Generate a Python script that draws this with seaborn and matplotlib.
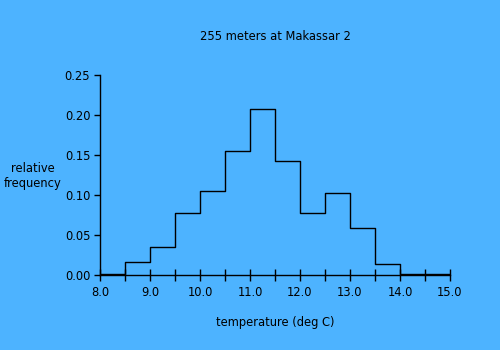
import matplotlib
matplotlib.use("Agg")
import matplotlib.pyplot as plt
import numpy as np
import seaborn as sns

# Temperature bins (deg C) and relative frequency in each bin
bin_edges = [8.0, 8.5, 9.0, 9.5, 10.0, 10.5, 11.0, 11.5, 12.0, 12.5, 13.0, 13.5, 14.0, 14.5, 15.0]
rel_freq = [0.001, 0.016, 0.035, 0.078, 0.105, 0.155, 0.208, 0.142, 0.078, 0.103, 0.059, 0.014, 0.001, 0.001]

x_ticklabels = ["8.0", "9.0", "10.0", "11.0", "12.0", "13.0", "14.0", "15.0"]
y_ticklabels = ["0.00", "0.05", "0.10", "0.15", "0.20", "0.25"]

bg = "#4DB3FF"
fs = 8.3
sns.set_theme(style="ticks")
plt.rcParams["font.family"] = ["DejaVu Sans"]

fig = plt.figure(figsize=(5, 3.5), dpi=100, facecolor=bg)
ax = fig.add_axes([0.2, 0.2143, 0.7, 0.5714], facecolor=bg)

centers = [(a + b) / 2 for a, b in zip(bin_edges[:-1], bin_edges[1:])]
sns.histplot(x=centers, weights=rel_freq, bins=bin_edges, element="step",
             fill=False, color="black", linewidth=1.0, ax=ax)

ax.set_xlim(8.0, 15.0)
ax.set_ylim(0.0, 0.25)
ax.set_xticks(np.arange(8.0, 15.01, 1.0))
ax.set_xticklabels(x_ticklabels)
ax.set_xticks(np.arange(8.5, 15.0, 1.0), minor=True)
ax.set_yticks(np.arange(0.0, 0.251, 0.05))
ax.set_yticklabels(y_ticklabels)

for side in ("top", "right"):
    ax.spines[side].set_visible(False)
for side in ("left", "bottom"):
    ax.spines[side].set_color("black")
    ax.spines[side].set_linewidth(1.0)

ax.tick_params(axis="x", which="both", direction="inout", length=8, width=1.0,
               color="black", labelsize=fs, pad=4, labelcolor="black")
ax.tick_params(axis="y", direction="out", length=4, width=1.0, color="black",
               labelsize=fs, pad=3, labelcolor="black")

ax.set_xlabel("temperature (deg C)", fontsize=fs, color="black", labelpad=12)
ax.set_ylabel("")
ax.set_title("255 meters at Makassar 2", fontsize=fs, color="black", pad=25)
fig.text(33 / 500, 1 - 176 / 350, "relative\nfrequency", fontsize=fs,
         ha="center", va="center", multialignment="center", color="black",
         linespacing=1.1)

fig.savefig("out.png", dpi=100, facecolor=bg)
